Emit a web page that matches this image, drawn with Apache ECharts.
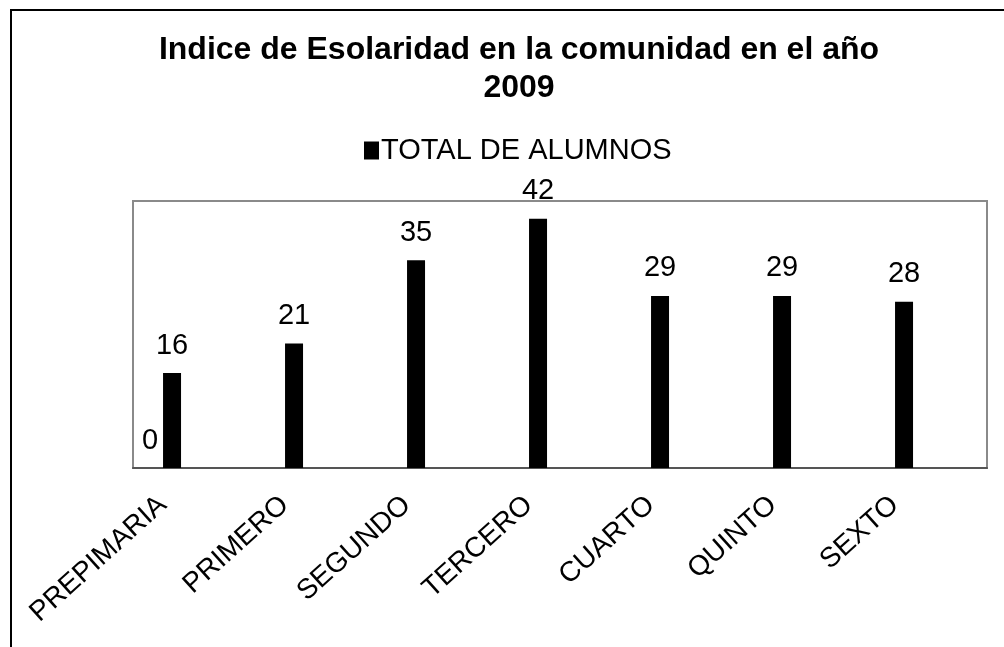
<!DOCTYPE html>
<html>
<head>
<meta charset="utf-8">
<script src="https://cdn.jsdelivr.net/npm/echarts@6/dist/echarts.min.js"></script>
<style>
  html, body { margin: 0; padding: 0; background: #fff; }
  #chart { width: 1004px; height: 647px; }
</style>
</head>
<body>
<div id="chart"></div>
<script>
var categories = ['PREPIMARIA', 'PRIMERO', 'SEGUNDO', 'TERCERO', 'CUARTO', 'QUINTO', 'SEXTO'];
var totalAlumnos = [16, 21, 35, 42, 29, 29, 28];
// serie vacia que solo deja la etiqueta "0" junto a la primera barra
var serieCero = [0, null, null, null, null, null, null];

var font = 'Arial, "Liberation Sans", sans-serif';

var barLabel = {
  show: true,
  position: 'top',
  distance: 13,
  color: '#000',
  fontFamily: font,
  fontSize: 29
};

function emptyBar(name) {
  return { name: name, type: 'bar', barWidth: 18, barGap: '22%', data: [] };
}

var chart = echarts.init(document.getElementById('chart'));
chart.setOption({
  backgroundColor: '#fff',
  animation: false,
  title: {
    text: 'Indice de Esolaridad en la comunidad en el año\n2009',
    left: 514,
    top: 26,
    textAlign: 'center',
    textStyle: {
      fontFamily: font,
      fontWeight: 'bold',
      fontSize: 32,
      lineHeight: 38,
      color: '#000'
    }
  },
  legend: {
    data: ['TOTAL DE ALUMNOS'],
    left: 359,
    top: 131,
    itemWidth: 15,
    itemHeight: 18,
    itemGap: 2,
    icon: 'rect',
    textStyle: { fontFamily: font, fontSize: 29, color: '#000', padding: [0, 0, 0, -3] }
  },
  grid: {
    show: true,
    left: 133,
    right: 17,
    top: 201,
    bottom: 179,
    borderColor: '#8a8a8a',
    borderWidth: 2,
    containLabel: false
  },
  xAxis: {
    type: 'category',
    data: categories,
    axisLine: { lineStyle: { color: '#555', width: 2 } },
    axisTick: { show: false },
    axisLabel: {
      interval: 0,
      rotate: 42,
      margin: 5,
      padding: [0, 42, 0, 0],
      color: '#000',
      fontFamily: font,
      fontSize: 28
    }
  },
  yAxis: {
    type: 'value',
    min: 0,
    max: 45,
    show: false,
    splitLine: { show: false }
  },
  series: [
    {
      name: 'cero',
      type: 'bar',
      barWidth: 18,
      barGap: '22%',
      itemStyle: { color: '#000' },
      label: barLabel,
      data: serieCero
    },
    {
      name: 'TOTAL DE ALUMNOS',
      type: 'bar',
      barWidth: 18,
      barGap: '22%',
      itemStyle: { color: '#000' },
      label: barLabel,
      data: totalAlumnos
    },
    emptyBar('s3'),
    emptyBar('s4'),
    emptyBar('s5')
  ],
  graphic: [{
    type: 'polyline',
    shape: { points: [[11, 647], [11, 10], [1004, 10]] },
    style: { stroke: '#000', lineWidth: 2, fill: null }
  }]
});
</script>
</body>
</html>
